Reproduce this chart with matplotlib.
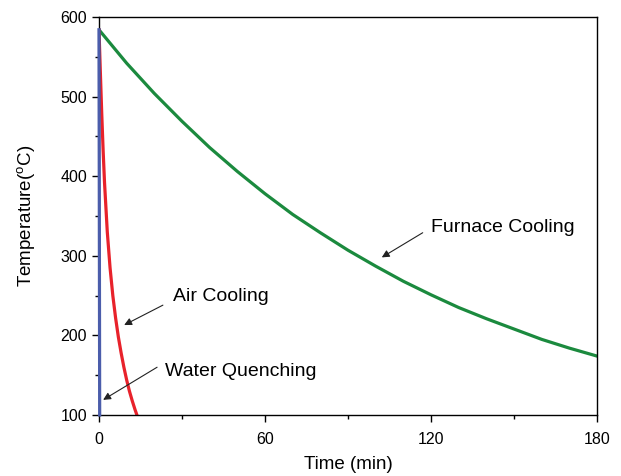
import matplotlib
matplotlib.use("Agg")
import matplotlib.pyplot as plt
from matplotlib.ticker import MultipleLocator

plt.rcParams['font.family'] = ['Liberation Sans', 'DejaVu Sans']
plt.rcParams['mathtext.fontset'] = 'custom'
plt.rcParams['mathtext.rm'] = 'Liberation Sans'
plt.rcParams['mathtext.it'] = 'Liberation Sans'

# Furnace cooling (min, degC)
furnace_t = [0, 10, 20, 30, 40, 50, 60, 70, 80, 90, 100, 110, 120, 130, 140, 150, 160, 170, 180]
furnace_T = [584, 542, 504, 469, 436, 406, 378, 352, 329, 307, 287, 268, 251, 235, 221, 208, 195, 184, 174]

# Air cooling
air_t = [0, 0.5, 1, 1.5, 2, 3, 4, 5, 6, 7, 8, 9, 10, 11, 12, 13, 13.7]
air_T = [584, 530, 478, 432, 392, 330, 285, 250, 222, 198, 178, 160, 144, 130, 118, 107, 100]

# Water quenching
water_t = [0, 0.1, 0.2, 0.25]
water_T = [584, 400, 200, 100]

labels = ["Furnace Cooling", "Air Cooling", "Water Quenching"]

fig = plt.figure(figsize=(6.21, 4.76), dpi=100)
ax = fig.add_axes([0.1594, 0.1282, 0.802, 0.836])

ax.plot(furnace_t, furnace_T, color='#1b8a3e', lw=2.3)
ax.plot(air_t, air_T, color='#e8222b', lw=2.3)
ax.plot(water_t, water_T, color='#4b5dab', lw=2.3, clip_on=False, zorder=3)

ax.set_xlim(0, 180)
ax.set_ylim(100, 600)
ax.xaxis.set_major_locator(MultipleLocator(60))
ax.xaxis.set_minor_locator(MultipleLocator(30))
ax.yaxis.set_major_locator(MultipleLocator(100))
ax.yaxis.set_minor_locator(MultipleLocator(50))
ax.tick_params(which='both', direction='out', top=False, right=False, labelsize=11.5, width=1.0)
ax.tick_params(which='major', length=5)
ax.tick_params(which='minor', length=3)
ax.tick_params(axis='x', which='major', pad=7)
for s in ax.spines.values():
    s.set_linewidth(1.0)

ax.set_xlabel("Time (min)", fontsize=13.5, labelpad=7)
ax.set_ylabel("Temperature($^{\\mathrm{o}}$C)", fontsize=13.5, labelpad=17)

arrow = dict(arrowstyle='-|>', color='#222222', lw=0.8, mutation_scale=11, shrinkA=0, shrinkB=0)
ax.annotate("", xy=(102.2, 298), xytext=(117, 329), arrowprops=arrow)
ax.text(120, 335, labels[0], fontsize=14, ha='left', va='center')
ax.annotate("", xy=(9.1, 213), xytext=(23.1, 238), arrowprops=arrow)
ax.text(26.7, 249, labels[1], fontsize=14, ha='left', va='center')
ax.annotate("", xy=(1.5, 119), xytext=(21, 160), arrowprops=arrow)
ax.text(23.9, 154, labels[2], fontsize=14, ha='left', va='center')

fig.savefig("out.png", dpi=100)
